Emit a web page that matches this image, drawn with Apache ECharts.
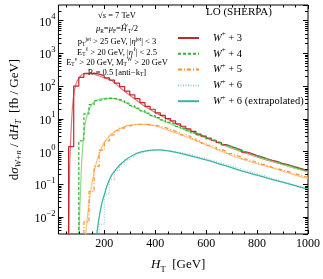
<!DOCTYPE html>
<html><head><meta charset="utf-8">
<script src="https://cdn.jsdelivr.net/npm/echarts@6/dist/echarts.min.js"></script>
<style>html,body{margin:0;padding:0;background:#fff}#c{width:323px;height:279px}</style>
</head><body><div id="c"></div>
<script>
// ---------- data ----------
const binLeft = [60,80,100,120,140,160,180,200,220,240,260,280,300,320,340,360,380,400,420,440,460,480,500,520,540,560,580,600,620,640,660,680,700,720,740,760,780,800,820,840,860,880,900,920,940,960,980];
const histW3 = [1.4,100,185,240,248,232,208,178,152,122,96,70,54,41,31,24,19.5,15.2,12.6,10.1,8.6,7.0,5.9,4.9,4.1,3.4,2.95,2.55,2.2,1.88,1.62,1.42,1.25,1.1,0.95,0.86,0.75,0.68,0.6,0.54,0.49,0.43,0.4,0.36,0.32,0.29,0.26];
const histW4 = [null,null,2.1,14,27,36,40,42,42,39,35,30,25,21,17.5,14.8,12.5,10.8,9.2,7.8,6.8,5.8,5.0,4.3,3.7,3.2,2.8,2.4,2.1,1.85,1.6,1.4,1.22,1.08,0.95,0.84,0.74,0.66,0.6,0.53,0.48,0.43,0.39,0.35,0.31,0.28,0.25];
const histW5 = [null,null,null,0.007,0.06,0.35,1.1,2.1,3.2,4.3,5.2,6.0,6.5,6.8,6.8,6.6,6.3,5.9,5.4,4.7,4.2,3.7,3.2,2.85,2.45,2.1,1.8,1.55,1.35,1.15,1.0,0.86,0.75,0.67,0.58,0.52,0.46,0.41,0.37,0.33,0.3,0.27,0.245,0.22,0.2,0.18,0.16];
const histW6 = [null,null,null,null,null,null,0.006,0.05,0.14,0.26,0.4,0.55,0.7,0.85,0.97,1.05,1.12,1.13,1.1,1.07,1.0,0.93,0.87,0.8,0.73,0.66,0.6,0.54,0.49,0.44,0.4,0.36,0.32,0.29,0.26,0.23,0.21,0.19,0.17,0.15,0.135,0.12,0.11,0.097,0.088,0.079,0.071];

const fitW3 = [[60,0.002],[64,0.3],[70,5],[78,40],[88,110],[100,175],[115,230],[130,250],[150,240],[175,210],[200,180],[230,145],[260,92],[300,52],[350,27],[400,15.5],[450,9.6],[500,6.0],[550,3.9],[600,2.65],[650,1.8],[700,1.27],[750,0.92],[800,0.68],[850,0.51],[900,0.40],[950,0.31],[1000,0.245]];
const fitW4 = [[100,0.002],[106,0.05],[112,0.6],[118,2.5],[125,7],[135,15],[150,27],[165,35],[180,39.5],[200,42],[225,42.5],[250,39],[275,33],[300,26.5],[350,17],[400,11.2],[450,7.6],[500,5.2],[550,3.6],[600,2.55],[650,1.85],[700,1.33],[750,0.98],[800,0.72],[850,0.54],[900,0.41],[950,0.31],[1000,0.24]];
const fitW5 = [[125,0.002],[135,0.012],[145,0.05],[155,0.15],[165,0.35],[180,0.85],[195,1.6],[210,2.4],[230,3.5],[250,4.5],[275,5.6],[300,6.4],[330,6.8],[360,6.7],[400,6.0],[450,4.5],[500,3.3],[550,2.3],[600,1.6],[650,1.1],[700,0.75],[750,0.55],[800,0.42],[850,0.33],[900,0.25],[950,0.19],[1000,0.15]];
const fitW6 = [[168,0.002],[178,0.008],[190,0.025],[204,0.06],[215,0.11],[229,0.19],[245,0.28],[266,0.42],[290,0.6],[314,0.78],[345,0.97],[376,1.08],[410,1.12],[450,1.05],[500,0.88],[550,0.7],[600,0.55],[650,0.42],[700,0.32],[750,0.24],[800,0.19],[850,0.145],[900,0.115],[950,0.09],[1000,0.069]];

const seriesNames = ['W3','W4','W5','W6','W6x'];
const legendRich = {
  W3:'{i|W}{s|+}{n| + 3}', W4:'{i|W}{s|+}{n| + 4}', W5:'{i|W}{s|+}{n| + 5}',
  W6:'{i|W}{s|+}{n| + 6}', W6x:'{i|W}{s|+}{n| + 6 (extrapolated)}'
};
const xTickLabels = [200,400,600,800,1000];
const yMinorMantissa = [2,3,4,5,6,7,8,9];
const yDecades = [-3,-2,-1,0,1,2,3,4];
const xMinorTicks = [50,100,150,250,300,350,450,500,550,650,700,750,850,900,950];

const xMin = 20, xMax = 1000, yMin = 0.003, yMax = 30000;
const SERIF = '"Liberation Serif","DejaVu Serif",serif';

function stepData(vals){
  const out = []; let first = true, last = null;
  for (let i = 0; i < binLeft.length; i++){
    if (vals[i] == null) continue;
    if (first){ out.push([binLeft[i], 1e-5]); first = false; }
    out.push([binLeft[i], vals[i]]); last = vals[i];
  }
  out.push([xMax, last]);
  return out;
}

const minorData = [];
yDecades.forEach(e => yMinorMantissa.forEach(m => {
  const v = m * Math.pow(10, e);
  if (v > yMin && v < yMax) minorData.push([xMin, v, 0]);
}));
xMinorTicks.forEach(x => minorData.push([x, yMin, 1]));

const chart = echarts.init(document.getElementById('c'));
function yLabel(v){
  const l = Math.log10(v), e = Math.round(l);
  if (Math.abs(l - e) > 1e-6) return '';
  return '{b|10}{s|' + (e < 0 ? '−' + (-e) : e) + '}';
}
const txt = {n:{fontFamily:SERIF,fontSize:8.5,lineHeight:11,verticalAlign:'middle'},
  i:{fontFamily:SERIF,fontSize:8.5,fontStyle:'italic',lineHeight:11,verticalAlign:'middle'},
  sb:{fontFamily:SERIF,fontSize:5.5,lineHeight:11,verticalAlign:'bottom'},
  sp:{fontFamily:SERIF,fontSize:5.5,lineHeight:11,verticalAlign:'top'}};
function infoLine(str, y){
  return {type:'text', x:117, y:y, style:{text:str, rich:txt, align:'center', verticalAlign:'middle', fill:'#000'}};
}
chart.setOption({
  animation:false,
  grid:{left:43, right:13, top:5, bottom:35, show:true, borderColor:'#000', borderWidth:1},
  xAxis:[{type:'value', min:xMin, max:xMax, splitNumber:5,
    axisLine:{show:false}, splitLine:{show:false},
    axisTick:{inside:true, length:4, lineStyle:{color:'#000'}},
    axisLabel:{margin:4, fontFamily:SERIF, fontSize:12, color:'#000',
      formatter:v => xTickLabels.indexOf(v) >= 0 ? String(v) : ''},
    name:'{i|H}{sb|T}{n|  [GeV]}', nameLocation:'middle', nameGap:22,
    nameTextStyle:{padding:[0,10,0,0], rich:{
      i:{fontFamily:SERIF,fontSize:13,fontStyle:'italic',lineHeight:18,verticalAlign:'middle',color:'#000'},
      n:{fontFamily:SERIF,fontSize:13,lineHeight:18,verticalAlign:'middle',color:'#000'},
      sb:{fontFamily:SERIF,fontSize:8.5,lineHeight:18,verticalAlign:'bottom',color:'#000'}}}
  },{type:'value', position:'top', min:xMin, max:xMax, splitNumber:5,
    axisLine:{show:false}, splitLine:{show:false}, axisLabel:{show:false},
    axisTick:{inside:true, length:4, lineStyle:{color:'#000'}}}],
  yAxis:[{type:'log', logBase:10, min:yMin, max:yMax,
    axisLine:{show:false}, splitLine:{show:false},
    axisTick:{inside:true, length:5, lineStyle:{color:'#000'}},
    axisLabel:{margin:3, formatter:yLabel, showMinLabel:false, showMaxLabel:false,
      rich:{b:{fontFamily:SERIF,fontSize:12,color:'#000',lineHeight:16,verticalAlign:'bottom'},
            s:{fontFamily:SERIF,fontSize:8.5,color:'#000',lineHeight:16,verticalAlign:'top'}}},
    name:'{n|d}{i|σ}{sb|W+n}{n| / d}{i|H}{sb|T}{n|  [fb / GeV]}', nameLocation:'middle', nameGap:26, nameRotate:90,
    nameTextStyle:{rich:{
      i:{fontFamily:SERIF,fontSize:13,fontStyle:'italic',lineHeight:18,verticalAlign:'middle',color:'#000'},
      n:{fontFamily:SERIF,fontSize:13,lineHeight:18,verticalAlign:'middle',color:'#000'},
      sb:{fontFamily:SERIF,fontSize:8.5,fontStyle:'italic',lineHeight:18,verticalAlign:'bottom',color:'#000'}}}
  },{type:'log', logBase:10, min:yMin, max:yMax, position:'right',
    axisLine:{show:false}, splitLine:{show:false}, axisLabel:{show:false},
    axisTick:{inside:true, length:5, lineStyle:{color:'#000'}}}],
  legend:{orient:'vertical', left:172, top:26, itemWidth:21, itemHeight:10, itemGap:3.3,
    data:seriesNames, selectedMode:false,
    itemStyle:{opacity:0, color:'rgba(0,0,0,0)', borderWidth:0},
    formatter:n => legendRich[n],
    textStyle:{padding:[0,0,0,9], rich:{
      i:{fontFamily:SERIF,fontSize:10.5,fontStyle:'italic',color:'#000',lineHeight:14,verticalAlign:'middle'},
      s:{fontFamily:SERIF,fontSize:7,color:'#000',lineHeight:14,verticalAlign:'top'},
      n:{fontFamily:SERIF,fontSize:10.5,color:'#000',lineHeight:14,verticalAlign:'middle'}}}},
  graphic:[
    {type:'text', x:239, y:12.5, style:{text:'LO (SHERPA)', font:'11px '+SERIF, align:'center', verticalAlign:'middle', fill:'#000'}},
    infoLine('{n|√}{i|s}{n| = 7 TeV}', 16),
    infoLine('{i|μ}{sb|R}{n|=}{i|μ}{sb|F}{n|=}{i|Ĥ}{sp|′}{sb|T}{n|/2}', 29),
    infoLine('{n|p}{sb|T}{sp|jet}{n| > 25 GeV, |}{i|η}{sp|jet}{n|| < 3}', 42),
    infoLine('{n|E}{sb|T}{sp|ℓ}{n| > 20 GeV, |}{i|η}{sp|ℓ}{n|| < 2.5}', 52.5),
    infoLine('{n|E}{sb|T}{sp|ν}{n| > 20 GeV, M}{sb|T}{sp|W}{n| > 20 GeV}', 62.5),
    infoLine('{n|R = 0.5 [anti−k}{sb|T}{n|]}', 72.5)
  ],
  series:[
    {name:'fitW3', type:'line', data:fitW3, smooth:0.3, symbol:'none', lineStyle:{color:'#e07a7a', width:1.2}, z:2},
    {name:'fitW4', type:'line', data:fitW4, smooth:0.3, symbol:'none', lineStyle:{color:'#8cdc8c', width:1.2}, z:2},
    {name:'fitW5', type:'line', data:fitW5, smooth:0.3, symbol:'none', lineStyle:{color:'#ffc080', width:1.2}, z:2},
    {name:'W3', type:'line', data:stepData(histW3), step:'end', symbol:'none', color:'#c4262e', lineStyle:{color:'#c4262e', width:1.2}, z:3},
    {name:'W4', type:'line', data:stepData(histW4), step:'end', symbol:'none', color:'#2fb52f', lineStyle:{color:'#2fb52f', width:1.2, type:[3,2]}, z:3},
    {name:'W5', type:'line', data:stepData(histW5), step:'end', symbol:'none', color:'#ff9022', lineStyle:{color:'#ff9022', width:1.2, type:[4,2,1,2]}, z:3},
    {name:'W6', type:'line', data:stepData(histW6), step:'end', symbol:'none', color:'#8fd0da', lineStyle:{color:'#8fd0da', width:1.2, type:[1,1.5]}, z:3},
    {name:'W6x', type:'line', data:fitW6, smooth:0.3, symbol:'none', color:'#3cb4a4', lineStyle:{color:'#3cb4a4', width:1.3}, z:4},
    {name:'minor', type:'custom', silent:true, z:10, data:minorData, encode:{x:0,y:1},
      renderItem:(params, api) => {
        const kind = api.value(2);
        const st = {stroke:'#000', lineWidth:1};
        if (kind === 0){
          const v = api.value(1);
          const pl = api.coord([xMin, v]), pr = api.coord([xMax, v]);
          const y = Math.round(pl[1]) + 0.5;
          return {type:'group', children:[
            {type:'line', shape:{x1:pl[0], y1:y, x2:pl[0]+3, y2:y}, style:st},
            {type:'line', shape:{x1:pr[0]-3, y1:y, x2:pr[0], y2:y}, style:st}]};
        }
        const x = api.value(0);
        const pb = api.coord([x, yMin]), pt = api.coord([x, yMax]);
        const xx = Math.round(pb[0]) + 0.5;
        return {type:'group', children:[
          {type:'line', shape:{x1:xx, y1:pb[1], x2:xx, y2:pb[1]-2.5}, style:st},
          {type:'line', shape:{x1:xx, y1:pt[1], x2:xx, y2:pt[1]+2.5}, style:st}]};
      }}
  ]
});
</script></body></html>
